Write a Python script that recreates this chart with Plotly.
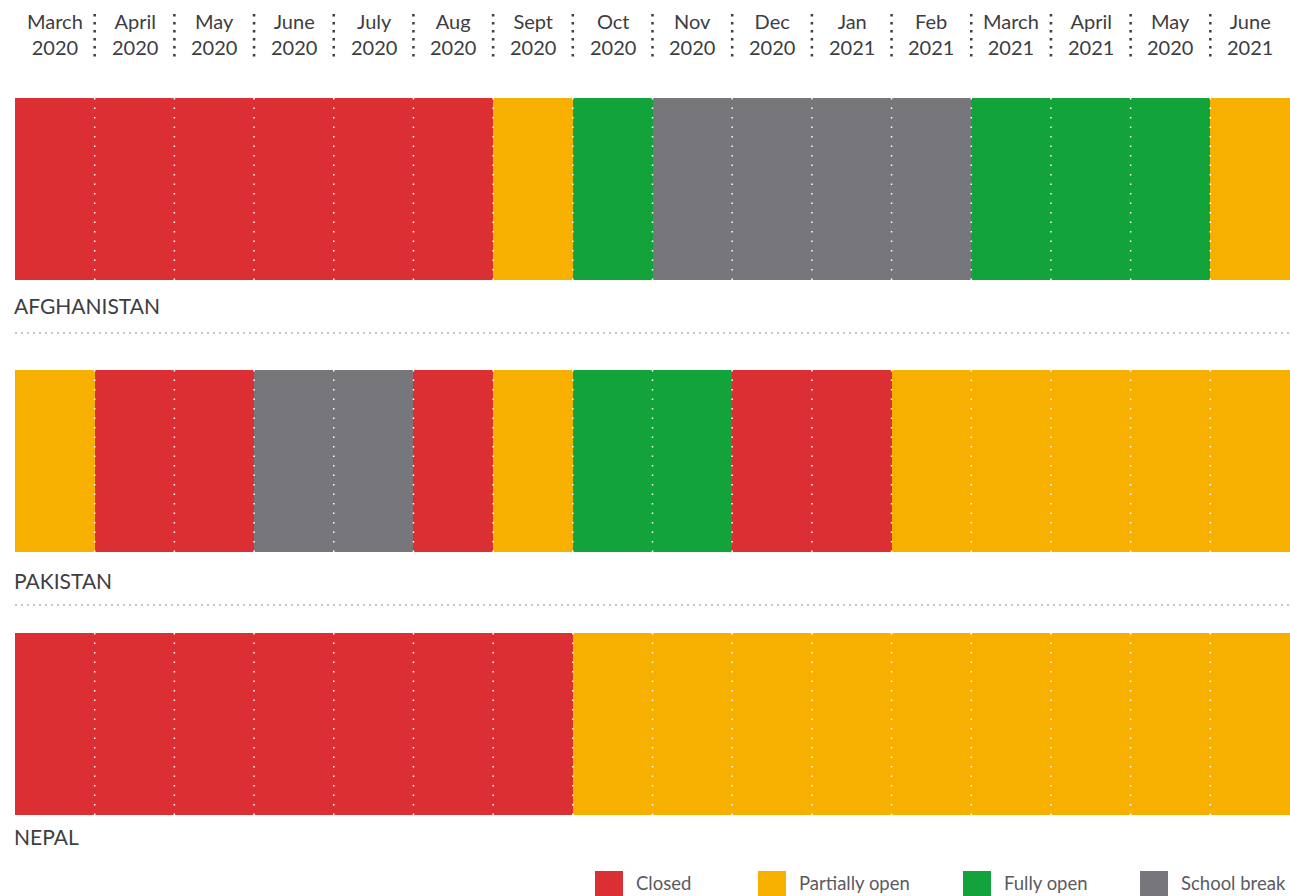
import plotly.graph_objects as go

months = ["March<br>2020", "April<br>2020", "May<br>2020", "June<br>2020", "July<br>2020",
          "Aug<br>2020", "Sept<br>2020", "Oct<br>2020", "Nov<br>2020", "Dec<br>2020",
          "Jan<br>2021", "Feb<br>2021", "March<br>2021", "April<br>2021", "May<br>2020",
          "June<br>2021"]

countries = ["AFGHANISTAN", "PAKISTAN", "NEPAL"]

afghanistan = ["Closed"] * 6 + ["Partially open", "Fully open"] + ["School break"] * 4 + \
              ["Fully open"] * 3 + ["Partially open"]
pakistan = ["Partially open", "Closed", "Closed", "School break", "School break", "Closed",
            "Partially open", "Fully open", "Fully open", "Closed", "Closed"] + ["Partially open"] * 5
nepal = ["Closed"] * 7 + ["Partially open"] * 9

statuses = ["Closed", "Partially open", "Fully open", "School break"]
colors = {"Closed": "#DC2F34", "Partially open": "#F8B000",
          "Fully open": "#12A33B", "School break": "#77777B"}

# layout (pixel geometry)
W, H = 1290, 896
X0 = 15
COLW = (W - X0) / len(months)
row_tops = [98, 370, 633]
ROWH = 182
label_y = [305, 580, 836]
sep_y = [333, 605]
TXT = "#3D3D42"
FONT = "Lato"

series = [afghanistan, pakistan, nepal]

fig = go.Figure()
for st in statuses:
    xs, bases, ys = [], [], []
    for r, data in enumerate(series):
        for i, s in enumerate(data):
            if s == st:
                xs.append(i + 0.5)
                bases.append(row_tops[r])
                ys.append(ROWH)
    fig.add_trace(go.Bar(x=xs, y=ys, base=bases, width=1.0, marker_color=colors[st],
                         marker_line_width=0, name=st, showlegend=False, hoverinfo="skip"))

shapes = []
annotations = []
# white dotted month dividers within bars
for r in range(len(series)):
    for i in range(1, len(months)):
        shapes.append(dict(type="line", xref="x", yref="y", x0=i, x1=i,
                           y0=row_tops[r], y1=row_tops[r] + ROWH,
                           line=dict(color="white", width=1.5, dash="1.5px,8px")))
# header dividers
for i in range(1, len(months)):
    shapes.append(dict(type="line", xref="x", yref="y", x0=i, x1=i, y0=14, y1=62,
                       line=dict(color="#3D3D42", width=2.5, dash="2.5px,5.5px")))
# horizontal separators
for y in sep_y:
    shapes.append(dict(type="line", xref="x", yref="y", x0=0, x1=len(months), y0=y, y1=y,
                       line=dict(color="#C8C8C8", width=2, dash="2px,4px")))

for i, m in enumerate(months):
    annotations.append(dict(x=i + 0.5, y=34, xref="x", yref="y", text=m, showarrow=False,
                            font=dict(family=FONT, size=20, color=TXT), align="center",
                            xanchor="center", yanchor="middle"))
for c, y in zip(countries, label_y):
    annotations.append(dict(x=0, y=y, xref="x", yref="y", text=c, showarrow=False,
                            font=dict(family=FONT, size=21, color=TXT), xshift=-3,
                            xanchor="left", yanchor="middle"))

# legend
leg_x = [595, 758, 963, 1140]
for st, lx in zip(statuses, leg_x):
    shapes.append(dict(type="rect", xref="paper", yref="y", x0=lx / W, x1=(lx + 28) / W,
                       y0=871, y1=897, fillcolor=colors[st], line_width=0))
    annotations.append(dict(x=(lx + 39) / W, y=883, xref="paper", yref="y", text=st,
                            showarrow=False, font=dict(family=FONT, size=18.5, color="#5A5A5F"),
                            xanchor="left", yanchor="middle"))

fig.update_layout(
    width=W, height=H, margin=dict(l=0, r=0, t=0, b=0),
    paper_bgcolor="white", plot_bgcolor="white",
    barmode="overlay", bargap=0,
    xaxis=dict(range=[-X0 / COLW, len(months)], visible=False, fixedrange=True),
    yaxis=dict(range=[H, 0], visible=False, fixedrange=True),
    shapes=shapes, annotations=annotations, showlegend=False,
)

fig.write_html("out.html", config={"displayModeBar": False},
               post_script="document.body.style.margin='0';document.body.style.overflow='hidden';")
